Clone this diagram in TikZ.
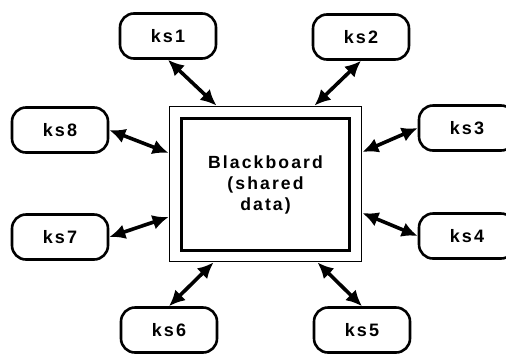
\documentclass[tikz,border=0pt]{standalone}
\usepackage{fontspec}
\setmainfont{Liberation Sans}
\usetikzlibrary{arrows.meta}
\begin{document}
\begin{tikzpicture}[x=0.5pt, y=-0.5pt,
  ks/.style={draw, line width=1.3pt, rounded corners=7pt, minimum width=48pt, minimum height=22.5pt,
    font=\fontsize{9}{10.5}\selectfont\bfseries\addfontfeatures{LetterSpace=12}},
  link/.style={{Latex[length=8pt,width=7.5pt]}-{Latex[length=8pt,width=7.5pt]}, line width=1.8pt}]
\useasboundingbox (0,0) rectangle (506,354);
\node(BB) [draw, line width=0.9pt, minimum width=96pt, minimum height=77.5pt] at (265.5,184) {};
\node(BBin) [draw, line width=1.1pt, minimum width=84pt, minimum height=66pt, align=center,
  font=\fontsize{8.8}{10.5}\selectfont\bfseries\addfontfeatures{LetterSpace=12}] at (265.5,184.5) {Blackboard\\(shared\\data)};
\node(KS1) [ks] at (168,36) {ks1};
\node(KS2) [ks] at (361,37) {ks2};
\node(KS3) [ks] at (467,128) {ks3};
\node(KS4) [ks] at (467,236) {ks4};
\node(KS5) [ks] at (362,330) {ks5};
\node(KS6) [ks] at (169,330) {ks6};
\node(KS7) [ks] at (60,237) {ks7};
\node(KS8) [ks] at (60,130) {ks8};
\draw[link] (KS1.south) -- ([xshift=-24.5pt]BB.north);
\draw[link] (KS2.south) -- ([xshift=24.5pt]BB.north);
\draw[link] (KS3.west) -- ([yshift=16pt]BB.east);
\draw[link] (KS4.west) -- ([yshift=-14.5pt]BB.east);
\draw[link] (KS5.north) -- ([xshift=26pt]BB.south);
\draw[link] (KS6.north) -- ([xshift=-26pt]BB.south);
\draw[link] (KS7.east) -- ([yshift=-16.5pt]BB.west);
\draw[link] (KS8.east) -- ([yshift=15.5pt]BB.west);
\end{tikzpicture}
\end{document}
